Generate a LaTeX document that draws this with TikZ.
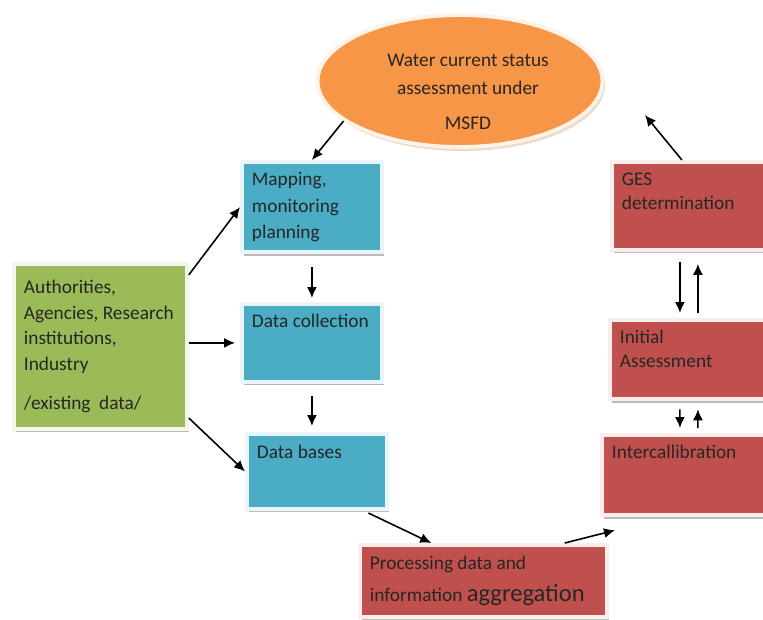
\documentclass[tikz,border=0pt]{standalone}
\usepackage{fontspec}
\setmainfont{Carlito}
\usetikzlibrary{arrows.meta, shapes.geometric, shadows, calc}

\definecolor{msfdorange}{HTML}{F79646}
\definecolor{msfdblue}{HTML}{4BACC6}
\definecolor{msfdgreen}{HTML}{9BBB59}
\definecolor{msfdred}{HTML}{C0504D}

\hyphenpenalty=10000
\exhyphenpenalty=10000

\begin{document}
\begin{tikzpicture}[x=0.02cm, y=-0.02cm]
    \tikzset{box/.style={rectangle, anchor=north west, align=flush left, inner xsep=0.2cm, inner ysep=0.2cm,
                         line width=2.2pt, text=black!85, font=\fontsize{11}{14.7}\selectfont,
                         drop shadow={shadow xshift=0.5mm, shadow yshift=-0.7mm, opacity=0.45, fill=black!60}},
             bluebox/.style={box, fill=msfdblue, draw=msfdblue!12},
             greenbox/.style={box, fill=msfdgreen, draw=msfdgreen!12},
             redbox/.style={box, fill=msfdred, draw=msfdred!10, font=\fontsize{11}{13.6}\selectfont},
             ellip/.style={ellipse, minimum width=5.7cm, minimum height=2.64cm, inner sep=0pt,
                           fill=msfdorange, draw=msfdorange!12, line width=2.2pt,
                           drop shadow={shadow xshift=0.5mm, shadow yshift=-0.8mm, opacity=0.4, fill=brown!70}},
             arr/.style={-{Latex[length=2.2mm, width=2mm]}, line width=0.9pt}}
    \useasboundingbox (0,0) rectangle (763,619);
    \clip (0,0) rectangle (763,619);

    % ---- Top: assessment ----
    \node[ellip, label={[align=center, text=black!85, font=\fontsize{11}{15.9}\selectfont,
                         xshift=1.6mm, yshift=-2.2mm]center:Water current status\\assessment under\\[4pt]MSFD}]
        (msfd) at (460,81) {};

    % ---- Left column: sources and data ----
    \node[greenbox, text width=3.06cm, minimum height=3.3cm] (src) at (12,262)
        {Authorities,\\Agencies,~Research\\institutions,\\Industry\\[2.6mm]/existing~ data/};
    \node[bluebox, text width=2.4cm, minimum height=1.76cm, font=\fontsize{11}{15.3}\selectfont] (map) at (240,160)
        {Mapping,\\monitoring\\planning};
    \node[bluebox, text width=2.4cm, minimum height=1.56cm, text depth=0.89cm] (coll) at (240,302) {Data collection};
    \node[bluebox, text width=2.4cm, minimum height=1.5cm, text depth=0.8cm] (bases) at (245,432) {Data bases};

    % ---- Bottom and right column: evaluation ----
    \node[redbox, text width=4.54cm, minimum height=1.44cm, font=\fontsize{11}{15}\selectfont] (proc) at (358,543)
        {Processing data and\\[3pt]information {\fontsize{14}{16}\selectfont aggregation}};
    \node[redbox, text width=3cm, minimum height=1.6cm, text depth=0.94cm] (inter) at (600,433) {Intercallibration};
    \node[redbox, text width=2.8cm, minimum height=1.58cm, text depth=0.92cm] (init) at (608,318) {Initial\\Assessment};
    \node[redbox, text width=2.8cm, minimum height=1.76cm, text depth=1.06cm] (ges) at (610,160) {GES\\determination};

    % ---- Arrows ----
    \draw[arr] (msfd.199) -- (map.north);
    \draw[arr] (src.39) -- (map.west);
    \draw[arr, shorten >=1mm] (src.east |- coll.west) -- (coll.west);
    \draw[arr] (src.-39) -- (bases.west);
    \draw[arr, shorten <=2.6mm, shorten >=0.8mm] (map.south) -- (map.south |- coll.north);
    \draw[arr, shorten <=2.4mm, shorten >=1.2mm] (coll.south) -- (coll.south |- bases.north);
    \draw[arr, shorten <=1mm] (bases.-40) -- (proc.144);
    \draw[arr] (proc.25) -- ($(inter.south west)+(15,13)$);
    \draw[arr, shorten <=1.6mm, shorten >=1mm] ($(init.south)+(-10,0)$) -- ($(inter.north)+(-7,0)$);
    \draw[arr, shorten <=1mm, shorten >=1.6mm] ($(inter.north)+(11,0)$) -- ($(init.south)+(8,0)$);
    \draw[arr, shorten <=2mm, shorten >=1mm] ($(ges.south)+(-12,0)$) -- ($(init.north)+(-10,0)$);
    \draw[arr, shorten <=1mm, shorten >=2.4mm] ($(init.north)+(8,0)$) -- ($(ges.south)+(6,0)$);
    \draw[arr] ($(ges.north)+(-10,0)$) -- ($(ges.north)+(-47,-45)$);
\end{tikzpicture}
\end{document}
